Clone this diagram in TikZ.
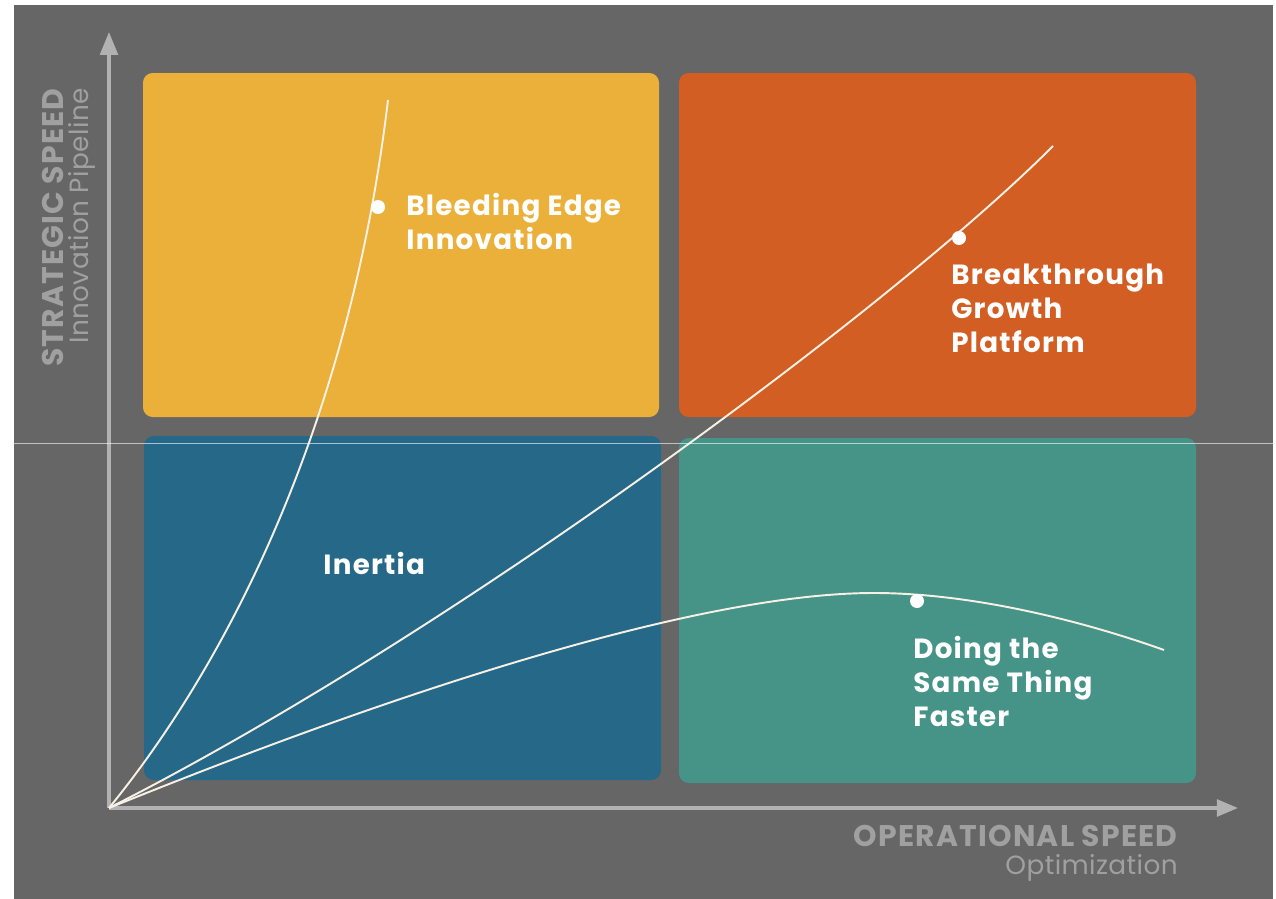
\documentclass[tikz,border=0pt]{standalone}
\usepackage{fontspec}
\setmainfont{Poppins}
\usetikzlibrary{arrows.meta}
\definecolor{bg}{HTML}{666666}
\definecolor{qyellow}{HTML}{EAB03A}
\definecolor{qorange}{HTML}{D35E24}
\definecolor{qblue}{HTML}{266888}
\definecolor{qteal}{HTML}{469387}
\definecolor{axisgray}{HTML}{B2B2B2}
\definecolor{labelgray}{HTML}{A0A0A0}
\definecolor{curvewhite}{HTML}{F6F1E4}
\begin{document}
\begin{tikzpicture}[x=0.02cm,y=-0.02cm,
  quad/.style={rounded corners=5.5pt, inner sep=0pt, draw=none},
  qlabel/.style={text=white, font=\fontsize{15.8}{19.2}\selectfont\bfseries\addfontfeatures{LetterSpace=4.5}, align=left, inner sep=0pt, anchor=north west},
  curve/.style={draw=curvewhite, line width=1.1pt},
  dot/.style={circle, fill=white, inner sep=0pt, minimum size=14*0.02cm},
  axis/.style={draw=axisgray, line width=2pt},
  axbold/.style={text=labelgray, font=\fontsize{17}{19}\selectfont\bfseries\addfontfeatures{LetterSpace=4}, inner sep=0pt},
  axreg/.style={text=labelgray, font=\fontsize{15}{17}\selectfont\addfontfeatures{LetterSpace=1.5}, inner sep=0pt}
]
\useasboundingbox (0,0) rectangle (1276,899);
\fill[white] (0,0) rectangle (1276,899);
\fill[bg] (14,5) rectangle (1273,899);

% quadrants
\node[quad, fill=qyellow, minimum width=516*0.02cm, minimum height=344*0.02cm] (q1) at (401,245) {};
\node[quad, fill=qorange, minimum width=517*0.02cm, minimum height=344*0.02cm] (q2) at (937.5,245) {};
\node[quad, fill=qblue, minimum width=517*0.02cm, minimum height=344*0.02cm] (q3) at (402.5,608) {};
\node[quad, fill=qteal, minimum width=517*0.02cm, minimum height=345*0.02cm] (q4) at (937.5,610.5) {};

% axes
\coordinate (O) at (109,808);
\coordinate (ytip) at (109,32);
\coordinate (xtip) at (1238,808);
\draw[axis, -{Triangle[length=13pt,width=10pt]}] (O) -- (ytip);
\draw[axis, -{Triangle[length=12pt,width=9.5pt]}] (O) -- (xtip);

% curves
\coordinate (c1end) at (388,100);
\coordinate (c2end) at (1053,146);
\coordinate (c3peak) at (874,593);
\coordinate (c3end) at (1164,650);
\draw[curve] (O) .. controls (230,660) and (350,420) .. (c1end);
\draw[curve] (O) .. controls (460,630) and (900,300) .. (c2end);
\draw[curve] (O) .. controls (400,690) and (700,593) .. (c3peak)
  .. controls (970,593) and (1080,620) .. (c3end);

% dots
\node[dot] (d1) at (378,207) {};
\node[dot] (d2) at (959,238) {};
\node[dot] (d3) at (917,601) {};

% quadrant labels
\node[qlabel] (l1) at (406,193) {Bleeding Edge\\Innovation};
\node[qlabel] (l2) at (951,264) {Breakthrough\\Growth\\Platform};
\node[qlabel] (l3) at (323,552) {Inertia};
\node[qlabel] (l4) at (913,636) {Doing the\\Same Thing\\Faster};

% axis labels
\node[axbold, rotate=90, anchor=base east] (ya) at (63,88) {STRATEGIC SPEED};
\node[axreg, rotate=90, anchor=base east] (yb) at (89,88) {Innovation Pipeline};
\node[axbold, anchor=base east] (xa) at (1178,846) {OPERATIONAL SPEED};
\node[axreg, anchor=base east] (xb) at (1178,874) {Optimization};

% thin horizontal artifact line
\draw[white, opacity=0.6, line width=0.4pt] (14,443) -- (1276,443);
\end{tikzpicture}
\end{document}
